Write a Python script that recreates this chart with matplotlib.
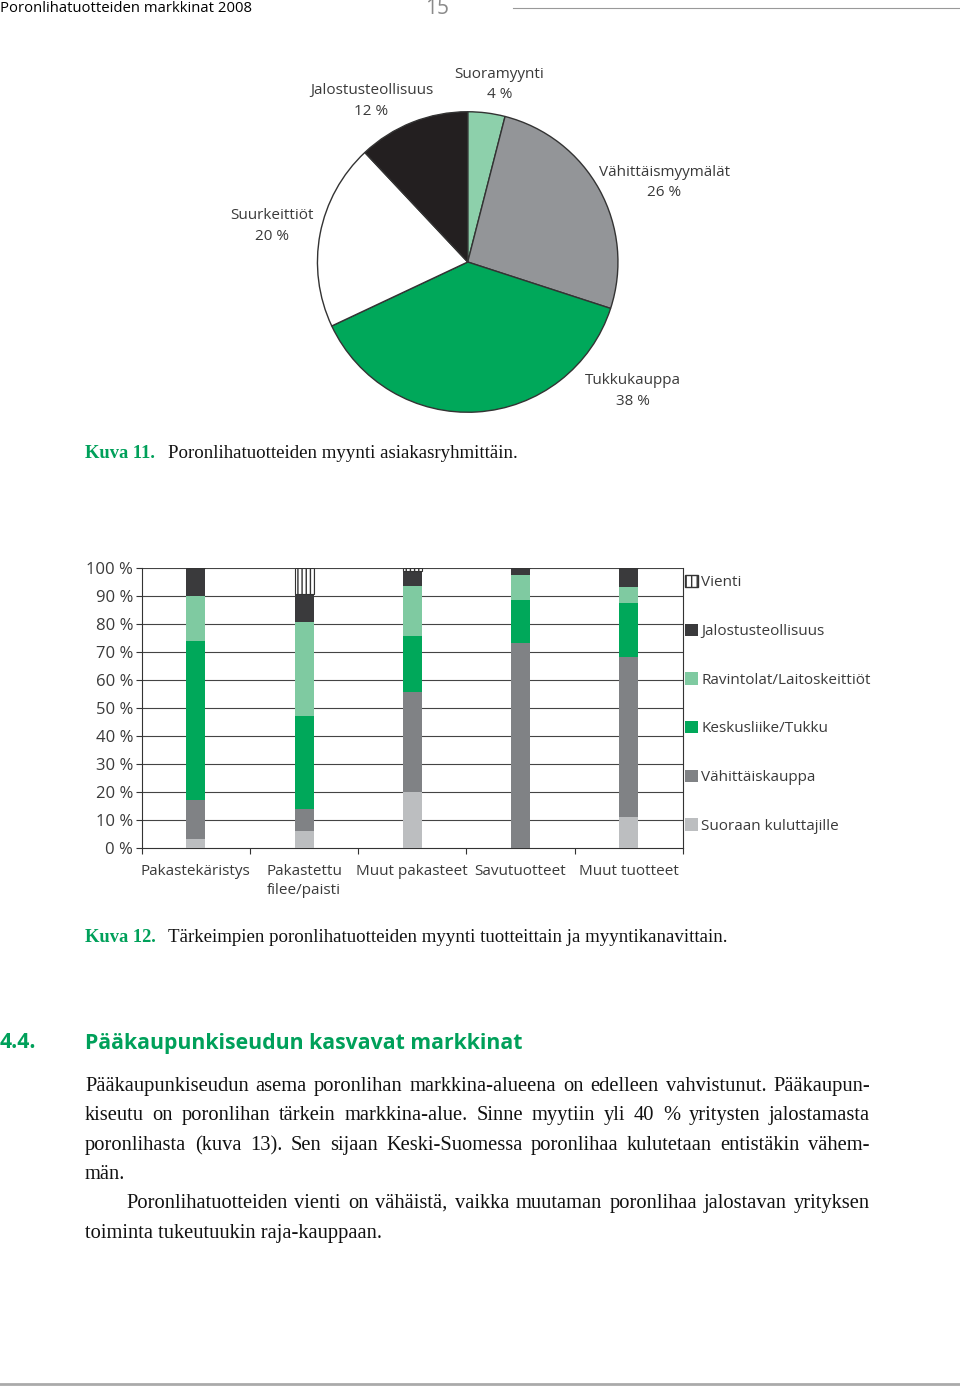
import matplotlib
matplotlib.use("Agg")
import numpy as np
from matplotlib import pyplot as plt
from matplotlib.patches import Patch

# pie data (Kuva 11)
pie_labels = ['Suoramyynti', 'Vähittäismyymälät', 'Tukkukauppa', 'Suurkeittiöt', 'Jalostusteollisuus']
pie_values = [4, 26, 38, 20, 12]

# stacked bar data (Kuva 12), percent shares
categories = ['Pakastekäristys', 'Pakastettu\nfilee/paisti', 'Muut pakasteet', 'Savutuotteet', 'Muut tuotteet']
series_names = ['Suoraan kuluttajille', 'Vähittäiskauppa', 'Keskusliike/Tukku',
                'Ravintolat/Laitoskeittiöt', 'Jalostusteollisuus', 'Vienti']
suoraan = [3, 6, 20, 0, 11]
vahittais = [14, 8, 35.5, 73, 57]
keskusliike = [57, 33, 20, 15.5, 19.5]
ravintolat = [16, 33.5, 18, 9, 5.5]
jalostus = [10, 10, 5.5, 2.5, 7]
vienti = [0, 9.5, 1, 0, 0]
yticks = [0, 10, 20, 30, 40, 50, 60, 70, 80, 90, 100]

body_lines = [
    "Pääkaupunkiseudun asema poronlihan markkina-alueena on edelleen vahvistunut. Pääkaupun-",
    "kiseutu on poronlihan tärkein markkina-alue. Sinne myytiin yli 40 % yritysten jalostamasta",
    "poronlihasta (kuva 13). Sen sijaan Keski-Suomessa poronlihaa kulutetaan entistäkin vähem-",
    "män.",
    "Poronlihatuotteiden vienti on vähäistä, vaikka muutaman poronlihaa jalostavan yrityksen",
    "toiminta tukeutuukin raja-kauppaan.",
]

W, H = 960, 1388
fig = plt.figure(figsize=(W / 100, H / 100), dpi=100)
green = '#00a05a'
txtc = '#3a3a3a'
sans = 'Open Sans'
serif = 'Liberation Serif'


def fx(x):
    return x / W


def fy(y):
    return 1 - y / H


# header
fig.text(fx(0), fy(8), 'Poronlihatuotteiden markkinat 2008', fontsize=10.7, family=sans,
         color='black', va='center', ha='left')
fig.text(fx(437), fy(8), '15', fontsize=15, family=sans, color='#8a8a8a', va='center', ha='center')
fig.add_artist(plt.Line2D([fx(513), fx(960)], [fy(8), fy(8)], color='#999999', lw=0.8))
fig.add_artist(plt.Line2D([fx(0), fx(960)], [fy(1384), fy(1384)], color='#aaaaaa', lw=2))

# pie
cx, cy, r = 467.7, 262, 151
axp = fig.add_axes([fx(cx - r), fy(cy + r), 2 * r / W, 2 * r / H])
pie_colors = ['#8dd0ab', '#939598', '#00a85a', 'white', '#231f20']
axp.pie(pie_values, colors=pie_colors, startangle=90, counterclock=False,
        wedgeprops=dict(edgecolor='#333333', linewidth=1))
axp.set_xlim(-1.005, 1.005)
axp.set_ylim(-1.005, 1.005)
axp.axis('off')
label_pos = [(0.21, 1.18), (1.31, 0.53), (1.10, -0.86), (-1.30, 0.24), (-0.64, 1.07)]
for name, val, (lx, ly) in zip(pie_labels, pie_values, label_pos):
    axp.text(lx, ly, f'{name}\n{val} %', ha='center', va='center', fontsize=11,
             family=sans, color=txtc, linespacing=1.5)

# captions
fig.text(fx(85), fy(453), 'Kuva 11.', fontsize=13.3, family=serif, weight='bold',
         color=green, va='center')
fig.text(fx(168), fy(453), 'Poronlihatuotteiden myynti asiakasryhmittäin.', fontsize=13.6,
         family=serif, color='#111111', va='center')
fig.text(fx(85), fy(938), 'Kuva 12.', fontsize=13.3, family=serif, weight='bold',
         color=green, va='center')
fig.text(fx(168), fy(938), 'Tärkeimpien poronlihatuotteiden myynti tuotteittain ja myyntikanavittain.',
         fontsize=13.6, family=serif, color='#111111', va='center')

# stacked bars
axb = fig.add_axes([fx(141.7), fy(847.7), 541.3 / W, 280 / H])
x = np.arange(len(categories))
series = [suoraan, vahittais, keskusliike, ravintolat, jalostus, vienti]
bar_colors = ['#bcbec0', '#808285', '#00a85a', '#7fcaa1', '#3a3a3c', 'white']
bottom = np.zeros(len(categories))
handles = []
for name, vals, col in zip(series_names, series, bar_colors):
    vals = np.array(vals, dtype=float)
    if name == 'Vienti':
        axb.bar(x, vals, 0.176, bottom=bottom, color='white', edgecolor='#333333',
                hatch='||||', linewidth=0.8, zorder=3)
        handles.append(Patch(facecolor='white', edgecolor='#333333', hatch='|||', label=name))
    else:
        axb.bar(x, vals, 0.176, bottom=bottom, color=col, zorder=3)
        handles.append(Patch(facecolor=col, label=name))
    bottom += vals

axb.set_xlim(-0.5, len(categories) - 0.5)
axb.set_ylim(0, 100)
axb.set_yticks(yticks)
axb.set_yticklabels([f'{v} %' for v in yticks], fontsize=12, family=sans, color=txtc)
axb.set_xticks(x)
axb.set_xticklabels(categories, fontsize=11, family=sans, color=txtc, linespacing=1.35)
axb.tick_params(axis='x', length=0, pad=12)
axb.set_xticks(np.arange(-0.5, len(categories)), minor=True)
axb.tick_params(axis='x', which='minor', length=4, color='#333333', width=0.8)
axb.tick_params(axis='y', length=4, color='#333333', width=0.8, pad=2)
for v in yticks[1:]:
    axb.axhline(v, color='#444444', lw=0.8, zorder=1)
for s in ['left', 'bottom', 'right']:
    axb.spines[s].set_color('#333333')
    axb.spines[s].set_linewidth(0.8)
axb.spines['top'].set_visible(False)

leg = axb.legend(handles[::-1], series_names[::-1], loc='upper left', bbox_to_anchor=(1.004, 0.974),
                 frameon=False, handlelength=0.85, handleheight=0.85,
                 handletextpad=0.2, labelspacing=2.18, borderpad=0, borderaxespad=0,
                 prop={'family': sans, 'size': 11})
for t in leg.get_texts():
    t.set_color(txtc)

# heading
fig.text(fx(0), fy(1043), '4.4.', fontsize=15.3, family=sans, weight='bold', color=green, va='center')
fig.text(fx(85), fy(1043), 'Pääkaupunkiseudun kasvavat markkinat', fontsize=15.3, family=sans,
         weight='bold', color=green, va='center')

# body text, justified lines placed word by word on a common baseline
renderer = fig.canvas.get_renderer()
line_base = [1091, 1120, 1150, 1179, 1208, 1238]
line_x0 = [85, 85, 85, 85, 126, 85]
justify = [True, True, True, False, True, False]
right_edge = 870
for txt, yy, x0, just in zip(body_lines, line_base, line_x0, justify):
    if not just:
        fig.text(fx(x0), fy(yy), txt, fontsize=14.8, family=serif, color='#111111', va='baseline')
        continue
    words = txt.split(' ')
    arts = [fig.text(0, fy(yy), w, fontsize=14.8, family=serif, color='#111111', va='baseline')
            for w in words]
    widths = [a.get_window_extent(renderer).width for a in arts]
    gap = (right_edge - x0 - sum(widths)) / (len(words) - 1)
    xx = x0
    for a, w in zip(arts, widths):
        a.set_x(fx(xx))
        xx += w + gap

fig.savefig('out.png', dpi=100)
